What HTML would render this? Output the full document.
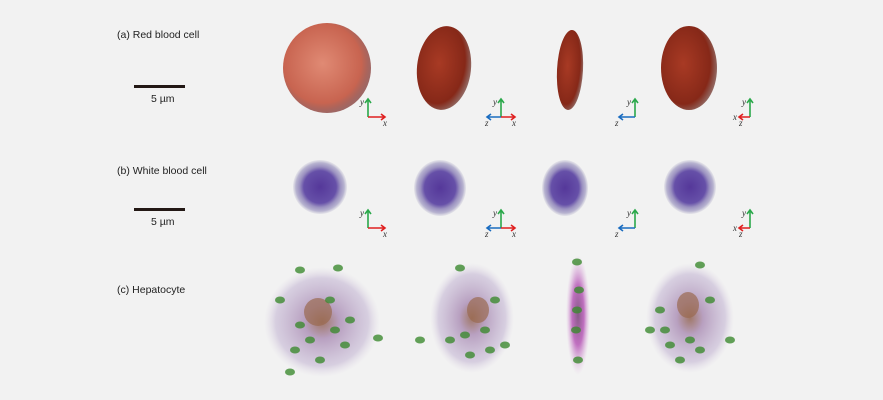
<!DOCTYPE html>
<html><head><meta charset="utf-8">
<style>
html,body{margin:0;padding:0;background:#f2f2f2;}
svg{display:block;}
.lbl{font-family:"Liberation Sans",sans-serif;font-size:10.5px;fill:#222;}
.ax{font-family:"Liberation Serif",serif;font-style:italic;font-size:9px;fill:#333;}
</style></head>
<body>
<svg id="fig" width="883" height="400" viewBox="0 0 883 400" xmlns="http://www.w3.org/2000/svg">
<defs>
<radialGradient id="rbc1" cx="45%" cy="45%" r="55%"><stop offset="0" stop-color="#e08a74"/><stop offset="0.8" stop-color="#c86450"/><stop offset="1" stop-color="#8a4440" stop-opacity="0.8"/></radialGradient>
<radialGradient id="rbc2" cx="40%" cy="45%" r="60%"><stop offset="0" stop-color="#a83a24"/><stop offset="0.8" stop-color="#862818"/><stop offset="1" stop-color="#6a2a20" stop-opacity="0.7"/></radialGradient>
<radialGradient id="wbc" cx="50%" cy="50%" r="50%"><stop offset="0" stop-color="#55389a"/><stop offset="0.6" stop-color="#6650a8"/><stop offset="0.75" stop-color="#9a90c0"/><stop offset="0.9" stop-color="#b8b4d0"/><stop offset="1" stop-color="#d0cedc" stop-opacity="0.4"/></radialGradient>
<radialGradient id="hep" cx="50%" cy="50%" r="50%"><stop offset="0" stop-color="#a07868"/><stop offset="0.3" stop-color="#b8a0c0"/><stop offset="0.8" stop-color="#cbbfd8" stop-opacity="0.7"/><stop offset="1" stop-color="#e0d8e6" stop-opacity="0"/></radialGradient>
<radialGradient id="hepthin" cx="50%" cy="50%" r="50%"><stop offset="0" stop-color="#8a5a8a"/><stop offset="0.5" stop-color="#c070c0"/><stop offset="1" stop-color="#e0b8e0" stop-opacity="0"/></radialGradient>
</defs>
<text class="lbl" x="117" y="38">(a) Red blood cell</text>
<text class="lbl" x="117" y="174">(b) White blood cell</text>
<text class="lbl" x="117" y="293">(c) Hepatocyte</text>
<rect x="134" y="85" width="51" height="3" fill="#231815"/>
<text class="lbl" x="151" y="102">5 µm</text>
<rect x="134" y="208" width="51" height="3" fill="#231815"/>
<text class="lbl" x="151" y="225">5 µm</text>

<g>
<ellipse cx="327" cy="68" rx="44" ry="45" fill="url(#rbc1)"/>
<ellipse cx="444" cy="68" rx="27" ry="42" fill="url(#rbc2)" transform="rotate(6 444 68)"/>
<ellipse cx="570" cy="70" rx="13" ry="40" fill="url(#rbc2)" transform="rotate(3 570 70)"/>
<ellipse cx="689" cy="68" rx="28" ry="42" fill="url(#rbc2)"/>
</g>
<g>
<ellipse cx="320" cy="187" rx="27" ry="27" fill="url(#wbc)"/>
<ellipse cx="440" cy="188" rx="26" ry="28" fill="url(#wbc)"/>
<ellipse cx="565" cy="188" rx="23" ry="28" fill="url(#wbc)"/>
<ellipse cx="690" cy="187" rx="26" ry="27" fill="url(#wbc)"/>
</g>
<g id="hepg">
<ellipse cx="322" cy="322" rx="58" ry="55" fill="url(#hep)"/>
<ellipse cx="318" cy="312" rx="14" ry="14" fill="#9a6a50" opacity="0.7"/>
<ellipse cx="472" cy="318" rx="42" ry="55" fill="url(#hep)"/>
<ellipse cx="478" cy="310" rx="11" ry="13" fill="#9a6a50" opacity="0.7"/>
<ellipse cx="578" cy="315" rx="12" ry="60" fill="url(#hepthin)"/>
<ellipse cx="690" cy="318" rx="44" ry="55" fill="url(#hep)"/>
<ellipse cx="688" cy="305" rx="11" ry="13" fill="#9a6a50" opacity="0.7"/>
</g>
<g id="axes"></g>
</svg>
<script>
var dots=[[300,270],[338,268],[310,340],[320,360],[290,372],[345,345],[378,338],[280,300],[330,300],[300,325],[350,320],[295,350],[335,330],[460,268],[470,355],[450,340],[485,330],[495,300],[420,340],[505,345],[465,335],[490,350],[577,262],[579,290],[576,330],[578,360],[577,310],[700,265],[710,300],[660,310],[670,345],[700,350],[730,340],[680,360],[650,330],[665,330],[690,340]];
var g=document.getElementById('hepg');
for(var i=0;i<dots.length;i++){
 var c=document.createElementNS('http://www.w3.org/2000/svg','ellipse');
 c.setAttribute('cx',dots[i][0]);c.setAttribute('cy',dots[i][1]);
 c.setAttribute('rx',5);c.setAttribute('ry',3.5);
 c.setAttribute('fill','#3c8a30');c.setAttribute('opacity','0.8');
 
 
 g.appendChild(c);
}
var NS='http://www.w3.org/2000/svg';
var ax=document.getElementById('axes');
function line(x1,y1,x2,y2,col){
 var l=document.createElementNS(NS,'path');
 var dx=x2-x1,dy=y2-y1,len=Math.hypot(dx,dy),ux=dx/len,uy=dy/len;
 var hx=x2-ux*4,hy=y2-uy*4;
 l.setAttribute('d','M'+x1+' '+y1+'L'+x2+' '+y2+'M'+(hx-uy*3)+' '+(hy+ux*3)+'L'+x2+' '+y2+'L'+(hx+uy*3)+' '+(hy-ux*3));
 l.setAttribute('stroke',col);l.setAttribute('stroke-width','1.6');l.setAttribute('fill','none');
 
 
 ax.appendChild(l);
}
function txt(x,y,s){
 var t=document.createElementNS(NS,'text');
 t.setAttribute('x',x);t.setAttribute('y',y);t.setAttribute('class','ax');t.textContent=s;
 
 
 ax.appendChild(t);
}
var rows=[117,228];
for(var r=0;r<2;r++){
 var y=rows[r];
 line(368,y,368,y-18,'#2aa84a');line(368,y,385,y,'#e02020');txt(360,y-12,'y');txt(383,y+9,'x');
 line(501,y,501,y-18,'#2aa84a');line(501,y,515,y,'#e02020');line(501,y,487,y,'#1a6cc0');txt(493,y-12,'y');txt(512,y+9,'x');txt(485,y+9,'z');
 line(635,y,635,y-18,'#2aa84a');line(635,y,619,y,'#1a6cc0');txt(627,y-12,'y');txt(615,y+9,'z');
 line(750,y,750,y-18,'#2aa84a');line(750,y,739,y,'#e02020');txt(742,y-12,'y');txt(733,y+3,'x');txt(739,y+9,'z');
}
</script>
</body></html>
